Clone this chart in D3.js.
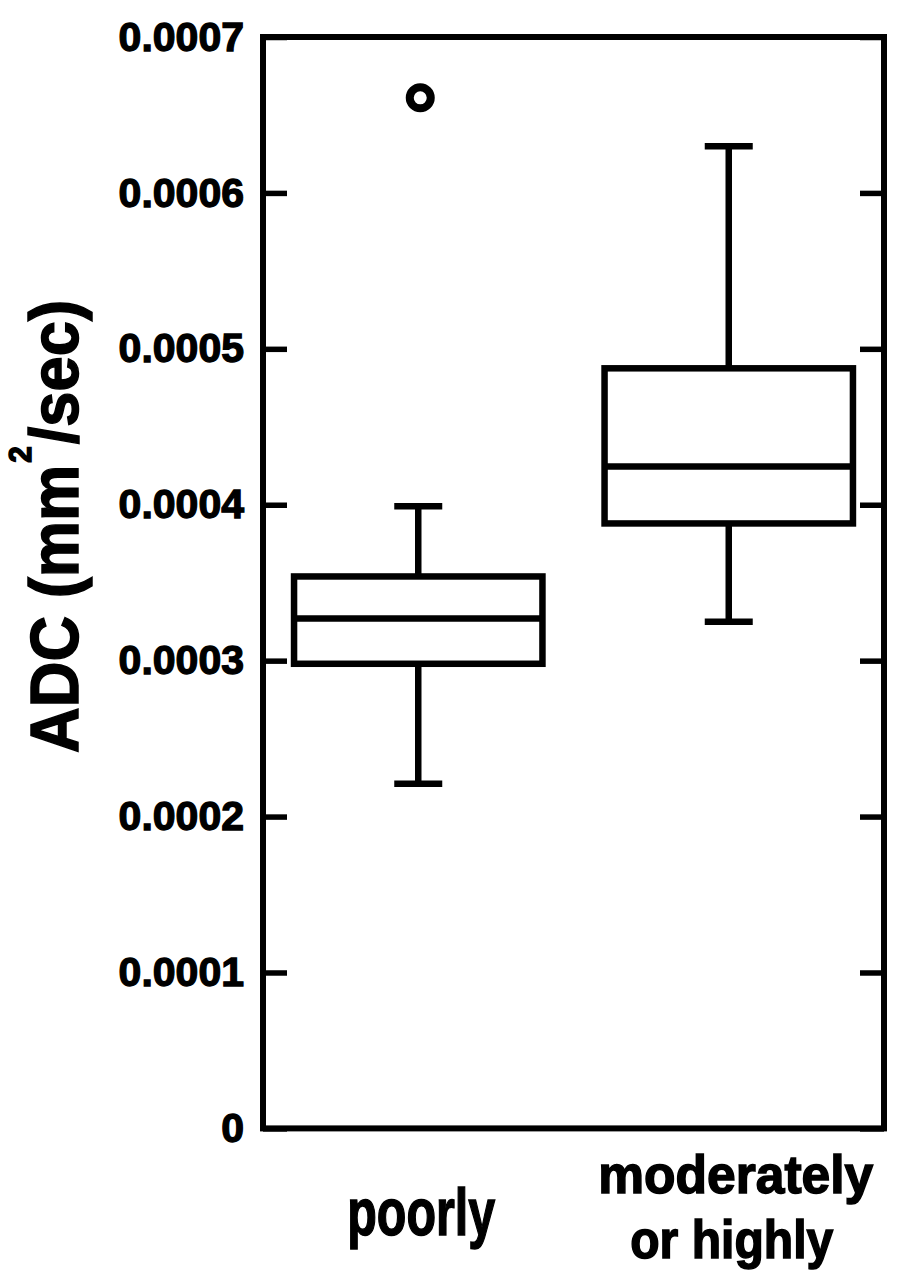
<!DOCTYPE html>
<html>
<head>
<meta charset="utf-8">
<script src="https://cdn.jsdelivr.net/npm/d3@7"></script>
<style>
  html, body { margin: 0; padding: 0; background: #fff; }
  svg { display: block; }
  text { font-family: "Liberation Sans", Arial, Helvetica, sans-serif; font-weight: bold; fill: #000; }
</style>
</head>
<body>
<svg id="chart" width="898" height="1280"></svg>
<script>
// ---- data ----
const categories = ["poorly", "moderately or highly"];
const categoryLines = [["poorly"], ["moderately", "or highly"]];
const whiskerLow  = [0.000221, 0.000325];
const q1          = [0.000298, 0.000388];
const median      = [0.000327, 0.0004245];
const q3          = [0.000354, 0.0004875];
const whiskerHigh = [0.000399, 0.000630];
const outliers    = [[0.000661], []];
const yTicks      = [0, 0.0001, 0.0002, 0.0003, 0.0004, 0.0005, 0.0006, 0.0007];
const yTickLabels = ["0", "0.0001", "0.0002", "0.0003", "0.0004", "0.0005", "0.0006", "0.0007"];
const yTitleMain  = "ADC (mm";
const yTitleSup   = "2";
const yTitleEnd   = "/sec)";

(function () {
// ---- layout ----
const pLeft = 263, pRight = 884, pTop = 37, pBottom = 1128.4;
const svg = d3.select("#chart");

const y = d3.scaleLinear().domain([0, 0.0007]).range([pBottom, pTop]);
const x = d3.scalePoint().domain(categories).range([pLeft, pRight]).padding(0.5);
const boxW = x.step() * 0.8;
const capW = 48;

// left axis (ticks inward, labels outside)
const yAxisL = d3.axisLeft(y)
  .tickValues(yTicks)
  .tickFormat((d, i) => yTickLabels[i])
  .tickSize(-24)
  .tickPadding(19);
const gL = svg.append("g").attr("transform", `translate(${pLeft},0)`).call(yAxisL);
gL.select(".domain").remove();
gL.selectAll(".tick line").attr("stroke", "#000").attr("stroke-width", 5.5);
gL.selectAll(".tick text")
  .attr("font-size", 41)
  .attr("font-family", "'Liberation Sans', Arial, sans-serif")
  .attr("font-weight", "bold")
  .attr("fill", "#000")
  .attr("stroke", "#000")
  .attr("stroke-width", 1.3)
  .attr("dy", "0.32em");

// right axis (ticks inward, no labels)
const yAxisR = d3.axisRight(y).tickValues(yTicks).tickFormat("").tickSize(-24);
const gR = svg.append("g").attr("transform", `translate(${pRight},0)`).call(yAxisR);
gR.select(".domain").remove();
gR.selectAll(".tick line").attr("stroke", "#000").attr("stroke-width", 5.5);

// frame
svg.append("rect")
  .attr("x", pLeft).attr("y", y(0.0007))
  .attr("width", pRight - pLeft).attr("height", y(0) - y(0.0007))
  .attr("fill", "none").attr("stroke", "#000").attr("stroke-width", 6);

// boxes
const boxes = categories.map((c, i) => ({
  c, lo: whiskerLow[i], q1: q1[i], med: median[i], q3: q3[i], hi: whiskerHigh[i], out: outliers[i]
}));
const sw = 6.5;
const g = svg.append("g").attr("stroke", "#000").attr("stroke-width", sw).attr("fill", "none");
boxes.forEach(b => {
  const cx = x(b.c);
  g.append("line").attr("x1", cx).attr("x2", cx).attr("y1", y(b.hi)).attr("y2", y(b.q3));
  g.append("line").attr("x1", cx).attr("x2", cx).attr("y1", y(b.q1)).attr("y2", y(b.lo));
  g.append("line").attr("x1", cx - capW / 2).attr("x2", cx + capW / 2).attr("y1", y(b.hi)).attr("y2", y(b.hi));
  g.append("line").attr("x1", cx - capW / 2).attr("x2", cx + capW / 2).attr("y1", y(b.lo)).attr("y2", y(b.lo));
  g.append("rect").attr("x", cx - boxW / 2).attr("y", y(b.q3))
    .attr("width", boxW).attr("height", y(b.q1) - y(b.q3)).attr("fill", "#fff");
  g.append("line").attr("x1", cx - boxW / 2).attr("x2", cx + boxW / 2).attr("y1", y(b.med)).attr("y2", y(b.med));
  b.out.forEach(v => {
    g.append("circle").attr("cx", cx + 2).attr("cy", y(v)).attr("r", 10.5).attr("stroke-width", 8).attr("fill", "#fff");
  });
});

// category labels
const labelStyle = [
  [{ size: 67, base: 1235, dx: 3, len: 148 }],
  [{ size: 53, base: 1193, dx: 7, len: 275 }, { size: 53, base: 1258, dx: 3, len: 203 }]
];
categoryLines.forEach((lines, i) => {
  lines.forEach((t, j) => {
    const s = labelStyle[i][j];
    svg.append("text")
      .attr("x", x(categories[i]) + s.dx)
      .attr("y", s.base)
      .attr("text-anchor", "middle")
      .attr("font-size", s.size)
      .attr("stroke", "#000")
      .attr("stroke-width", 1.5)
      .attr("textLength", s.len)
      .attr("lengthAdjust", "spacingAndGlyphs")
      .text(t);
  });
});

// y title
const title = svg.append("text")
  .attr("transform", `translate(78,${(300 + 753) / 2}) rotate(-90)`)
  .attr("text-anchor", "middle")
  .attr("font-size", 68)
  .attr("stroke", "#000")
  .attr("stroke-width", 1.5)
  .attr("textLength", 453)
  .attr("lengthAdjust", "spacingAndGlyphs");
title.append("tspan").text(yTitleMain);
title.append("tspan").attr("font-size", 32).attr("dy", -47).attr("dx", 2).text(yTitleSup);
title.append("tspan").attr("dy", 47).attr("dx", 2).text(yTitleEnd);
})();
</script>
</body>
</html>
